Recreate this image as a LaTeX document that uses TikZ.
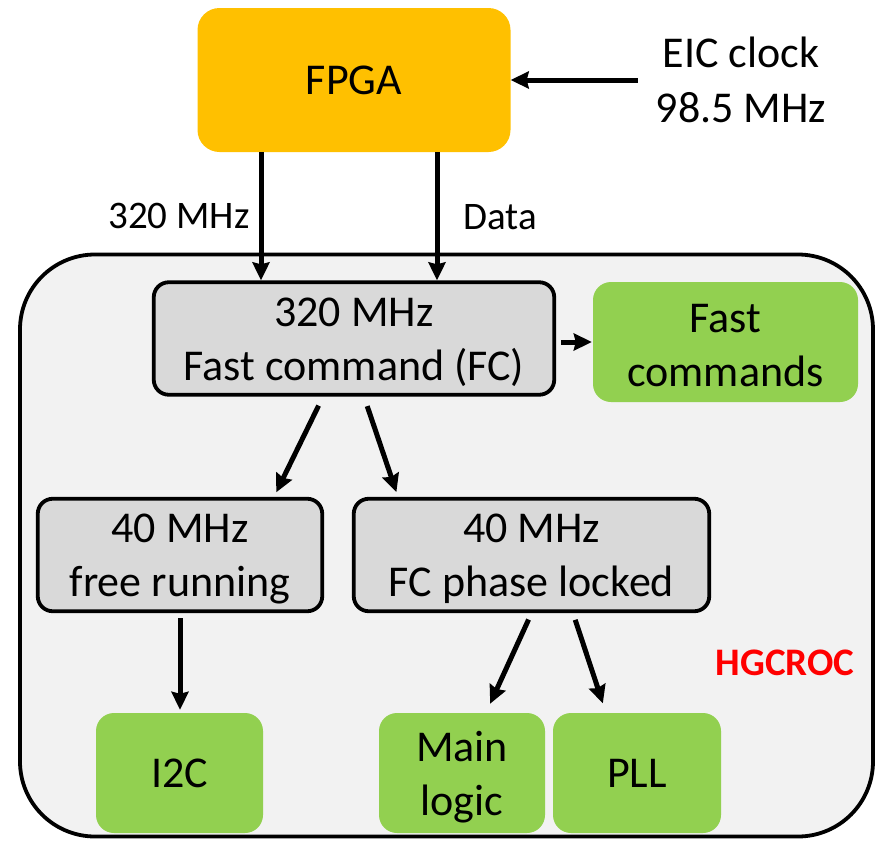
\documentclass[tikz,border=0pt]{standalone}
\usepackage{fontspec}
\setmainfont{Carlito}
\usetikzlibrary{arrows.meta}

\definecolor{fpgaorange}{RGB}{255,192,0}
\definecolor{leafgreen}{RGB}{146,208,80}
\definecolor{blockgray}{RGB}{217,217,217}
\definecolor{chipgray}{RGB}{242,242,242}
\definecolor{labelred}{RGB}{255,0,0}

\tikzset{
  bigtext/.style={font=\fontsize{44}{54}\selectfont, align=center},
  % two-line captions sit a little below the box centre
  caption/.style={label={[bigtext, inner sep=0pt, yshift=-4pt]center:{#1}}},
  smalltext/.style={font=\fontsize{39}{47}\selectfont, inner sep=0pt},
  fpgabox/.style={bigtext, rectangle, rounded corners=22pt, fill=fpgaorange, inner sep=0pt},
  clockbox/.style={rectangle, rounded corners=15pt, fill=blockgray, draw=black,
    line width=3.8pt, inner sep=0pt},
  leafbox/.style={bigtext, rectangle, rounded corners=18pt, fill=leafgreen, inner sep=0pt},
  chipbox/.style={rectangle, rounded corners=75pt, fill=chipgray, draw=black,
    line width=3.8pt, inner sep=0pt},
  arr/.style={line width=5pt, -{Stealth[length=18pt,width=17pt,inset=2pt]}},
}

\begin{document}
\begin{tikzpicture}[x=1pt, y=-1pt]
  \useasboundingbox (0,0) rectangle (876,844);

  % HGCROC chip outline
  \node[chipbox, minimum width=853pt, minimum height=582pt] (chip) at (446.5,545.5) {};
  \node[font=\fontsize{39}{47}\selectfont\bfseries, text=labelred, inner sep=0pt] (chipname) at (785,663) {HGCROC};

  % FPGA and its reference clock
  \node[fpgabox, minimum width=313pt, minimum height=144pt] (fpga) at (354,80) {FPGA};
  \node[bigtext, inner xsep=18pt, inner ysep=0pt, font=\fontsize{44}{55}\selectfont] (eic) at (741,80) {EIC clock\\98.5 MHz};

  % clock blocks
  \node[clockbox, minimum width=400.5pt, minimum height=112.5pt,
        caption={320 MHz\\Fast command (FC)}] (fc) at (354,338.5) {};
  \node[clockbox, minimum width=284.5pt, minimum height=112.5pt,
        caption={40 MHz\\free running}] (free) at (180,555) {};
  \node[clockbox, minimum width=355.5pt, minimum height=112.5pt,
        caption={40 MHz\\FC phase locked}] (locked) at (531.5,555) {};

  % consumers
  \node[leafbox, minimum width=265pt, minimum height=120pt,
        caption={Fast\\commands}] (fast) at (725.5,342) {};
  \node[leafbox, minimum width=167pt, minimum height=120pt] (i2c) at (179.5,773) {I2C};
  \node[leafbox, minimum width=166pt, minimum height=120pt,
        caption={Main\\logic}] (main) at (462,773) {};
  \node[leafbox, minimum width=168pt, minimum height=120pt] (pll) at (637,773) {PLL};

  % connections
  \draw[arr] (eic.west) -- (fpga.east);
  \draw[arr] ([xshift=-93pt]fpga.south) -- ([xshift=-93pt]fc.north);
  \draw[arr] ([xshift=83pt]fpga.south) -- ([xshift=83pt]fc.north);
  \node[smalltext] (lblclk) at (179,216) {320 MHz};
  \node[smalltext] (lbldata) at (500,217) {Data};

  \draw[arr, shorten <=5pt, shorten >=1pt] (fc.east |- fast.west) -- (fast.west);
  \draw[arr, shorten <=10pt, shorten >=5pt] ([xshift=-31pt]fc.south) -- ([xshift=94pt]free.north);
  \draw[arr, shorten <=10pt, shorten >=5pt] ([xshift=10pt]fc.south) -- ([xshift=-133.5pt]locked.north);

  \draw[arr, shorten <=5pt, shorten >=3pt] (free.south) -- (i2c.north -| free.south);
  \draw[arr, shorten <=7pt, shorten >=10pt] (locked.south) -- ([xshift=24pt]main.north);
  \draw[arr, shorten <=7pt, shorten >=10pt] ([xshift=41.5pt]locked.south) -- ([xshift=-31pt]pll.north);
\end{tikzpicture}
\end{document}
